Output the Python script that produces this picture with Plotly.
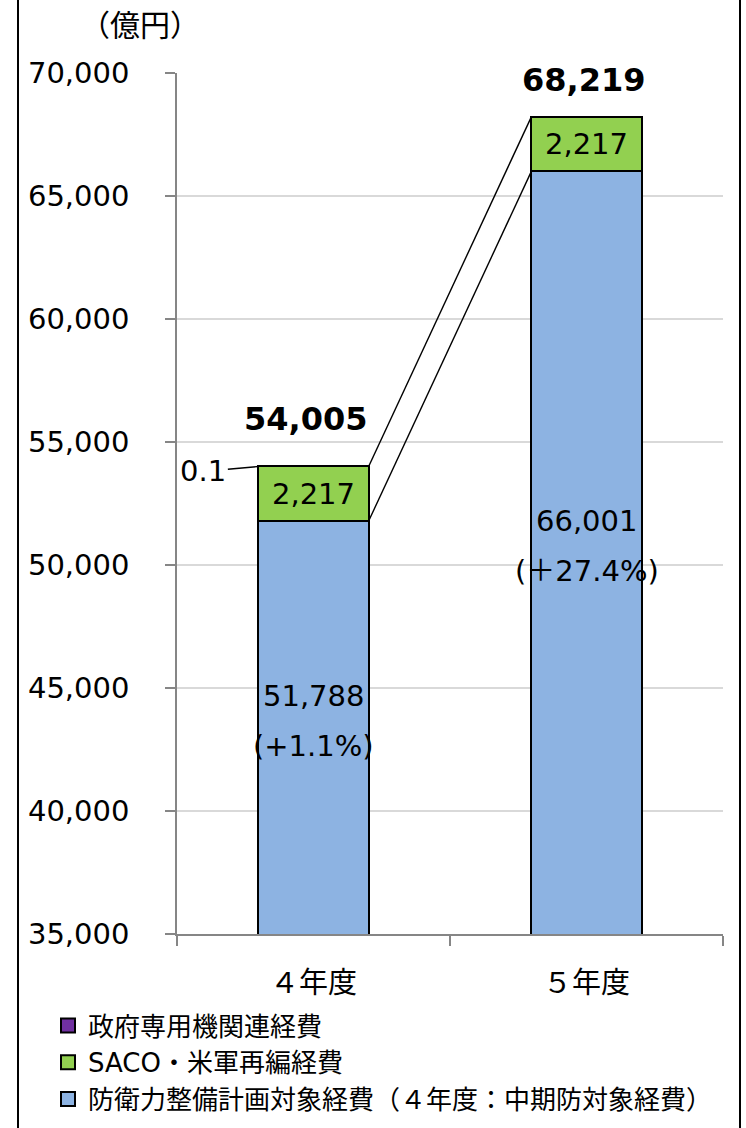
import plotly.graph_objects as go

categories = ["４年度", "５年度"]
base_vals = [51788, 66001]          # 防衛力整備計画対象経費
saco_vals = [2217, 2217]            # SACO・米軍再編経費
gov_vals = [0.1, 0]                 # 政府専用機関連経費
totals = [54005, 68219]
base_labels = ["51,788", "66,001"]
pct_labels = ["(+1.1%)", "(＋27.4%)"]
saco_labels = ["2,217", "2,217"]
total_labels = ["54,005", "68,219"]
gov_label = "0.1"
y_ticks = [35000, 40000, 45000, 50000, 55000, 60000, 65000, 70000]

names = ["防衛力整備計画対象経費（４年度：中期防対象経費）", "SACO・米軍再編経費", "政府専用機関連経費"]
colors = ["#8DB3E2", "#92D050", "#7030A0"]

FONT = "DejaVu Sans, Noto Sans CJK JP, sans-serif"
BW = 0.404
YMIN, YMAX = 35000, 70000
W, H = 746, 1128
L, R, T, B = 177, 23, 73, 194
PW, PH = W - L - R, H - T - B
TOTAL_SHIFT_Y = [26, 16]
TOTAL_SHIFT_X = [-8, -3]

def px_x(p):
    return (p - L) / PW

def px_y(p):
    return 1 - (p - T) / PH

fig = go.Figure()
for vals, name, col in zip([base_vals, saco_vals, gov_vals], names, colors):
    fig.add_trace(go.Bar(
        x=categories, y=vals, name=name, width=BW, showlegend=False,
        marker=dict(color=col, line=dict(color="black", width=2)),
        hoverinfo="skip",
    ))

# legend entries with larger square swatches
for name, col in zip(names, colors):
    fig.add_trace(go.Scatter(
        x=[None], y=[None], xaxis="x2", mode="markers", name=name,
        marker=dict(symbol="square", size=14, color=col, line=dict(color="black", width=2)),
        hoverinfo="skip",
    ))

# series (connector) lines between bar tops
left_edge = 0 + BW / 2
right_edge = 1 - BW / 2
top0 = base_vals[0] + saco_vals[0] + gov_vals[0]
top1 = base_vals[1] + saco_vals[1] + gov_vals[1]
fig.add_trace(go.Scatter(x=[left_edge, right_edge], y=[top0, top1], xaxis="x2", mode="lines",
                         line=dict(color="black", width=1.4), showlegend=False, hoverinfo="skip"))
fig.add_trace(go.Scatter(x=[left_edge, right_edge], y=[base_vals[0], base_vals[1]], xaxis="x2", mode="lines",
                         line=dict(color="black", width=1.4), showlegend=False, hoverinfo="skip"))

ann = []
for i, cat in enumerate(categories):
    ann.append(dict(x=i, xref="x2", y=base_vals[i] + saco_vals[i] / 2, yref="y",
                    text=saco_labels[i], showarrow=False, font=dict(size=29, color="black", family=FONT)))
    mid = (YMIN + base_vals[i]) / 2
    ann.append(dict(x=i, xref="x2", y=mid, yref="y", yshift=32, text=base_labels[i], showarrow=False,
                    font=dict(size=29, color="black", family=FONT)))
    ann.append(dict(x=i, xref="x2", y=mid, yref="y", yshift=-18, text=pct_labels[i], showarrow=False,
                    font=dict(size=29, color="black", family=FONT)))
    ann.append(dict(x=i, xref="x2", y=totals[i], yref="y", yanchor="bottom",
                    yshift=TOTAL_SHIFT_Y[i], xshift=TOTAL_SHIFT_X[i],
                    text="<b>" + total_labels[i] + "</b>", showarrow=False,
                    font=dict(size=32, color="black", family=FONT)))

ann.append(dict(x=0 - BW / 2, xref="x2", y=top0, yref="y",
                text=gov_label, showarrow=True, arrowhead=0, arrowwidth=1.4, arrowcolor="black",
                ax=-55, ay=5, font=dict(size=29, color="black", family=FONT)))
ann.append(dict(x=px_x(140), xref="paper", y=px_y(25), yref="paper", xanchor="center", yanchor="middle",
                text="（億円）", showarrow=False, font=dict(size=30, color="black", family=FONT)))

fig.update_layout(
    width=W, height=H,
    margin=dict(l=L, r=R, t=T, b=B, autoexpand=False),
    paper_bgcolor="white", plot_bgcolor="white",
    barmode="stack", bargap=0,
    font=dict(family=FONT, size=29, color="black"),
    xaxis=dict(type="category", range=[-0.5, 1.5], tickson="boundaries", ticks="outside", ticklen=10,
               tickcolor="#868686", tickwidth=1.5, showline=True, linecolor="#868686", linewidth=1.5,
               showgrid=False, tickfont=dict(size=29, family=FONT), ticklabelstandoff=22),
    xaxis2=dict(overlaying="x", range=[-0.5, 1.5], visible=False),
    yaxis=dict(range=[YMIN, YMAX], tickvals=y_ticks, tickformat=",", ticks="outside", ticklen=10,
               tickcolor="#868686", tickwidth=1.5, showline=True, linecolor="#868686", linewidth=1.5,
               showgrid=True, gridcolor="#D9D9D9", gridwidth=1.5, zeroline=False,
               tickfont=dict(size=29, family=FONT), ticklabelstandoff=30),
    legend=dict(x=px_x(48), y=px_y(1002),
                xanchor="left", yanchor="top", traceorder="reversed",
                font=dict(size=26, family=FONT), itemwidth=30, tracegroupgap=0,
                bgcolor="rgba(0,0,0,0)"),
    annotations=ann,
)

for xp in (18, 740):
    fig.add_shape(type="line", xref="paper", yref="paper",
                  x0=px_x(xp), x1=px_x(xp), y0=px_y(H + 5), y1=px_y(-5),
                  line=dict(color="black", width=2))

fig.write_html("out.html", config={"displayModeBar": False},
               post_script="document.body.style.margin='0';")
